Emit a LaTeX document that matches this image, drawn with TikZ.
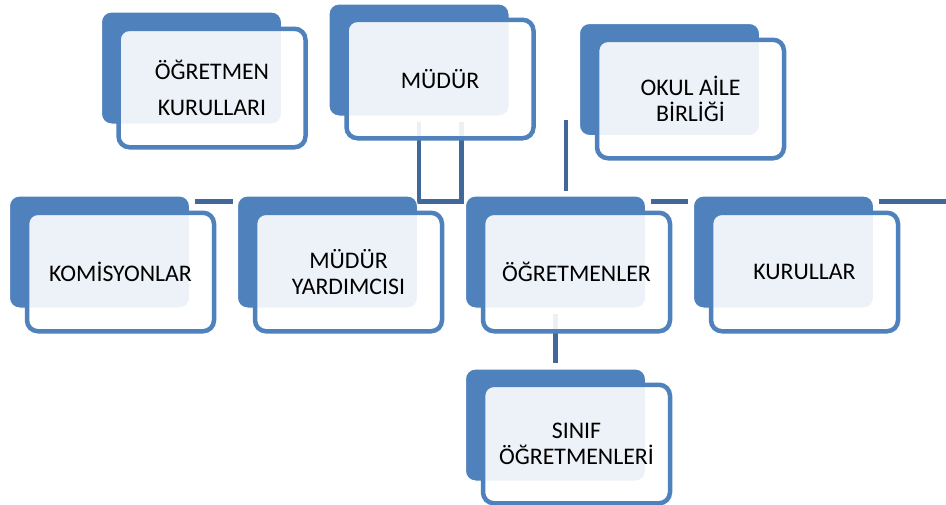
\documentclass[tikz,border=0pt]{standalone}
\usepackage{fontspec}
\setmainfont{Carlito}
\usetikzlibrary{backgrounds}
\definecolor{acc}{RGB}{79,129,189}
\definecolor{lin}{RGB}{65,104,155}
\begin{document}
\begin{tikzpicture}[x=1pt,y=-1pt,
  backbox/.style={fill=acc, draw=white, line width=1pt, rounded corners=10pt,
    minimum width=180pt, minimum height=112pt, inner sep=0pt},
  frontbox/.style={fill=white, fill opacity=0.9, text opacity=1, draw=acc, draw opacity=1,
    line width=4.5pt, rounded corners=11pt, minimum width=187pt, minimum height=118.5pt,
    inner sep=0pt, align=center, text=black,
    font=\fontsize{23.8pt}{26.5pt}\selectfont},
  conn/.style={draw=lin, line width=4.8pt}]
\useasboundingbox (0,0) rectangle (946,504);
% back boxes
\node[backbox] (b1) at (191.5,68) {};
\node[backbox] (b2) at (419,60) {};
\node[backbox] (b3) at (669.5,79.5) {};
\node[backbox] (b4) at (99.5,252) {};
\node[backbox] (b5) at (327.5,252) {};
\node[backbox] (b6) at (555.5,252) {};
\node[backbox] (b7) at (783.5,252) {};
\node[backbox] (b8) at (555.5,425) {};
% front boxes
\node[frontbox] (f1) at (212,88) {ÖĞRETMEN\\[9.5pt]KURULLARI};
\node[frontbox] (f2) at (440,79) {MÜDÜR};
\node[frontbox] (f3) at (690.5,99) {OKUL AİLE\\BİRLİĞİ};
\node[frontbox] (f4) at (120.5,272) {KOMİSYONLAR};
\node[frontbox] (f5) at (348.5,272) {MÜDÜR\\YARDIMCISI};
\node[frontbox] (f6) at (576.5,272) {ÖĞRETMENLER};
\node[frontbox] (f7) at (804.5,272) {KURULLAR};
\node[frontbox] (f8) at (576.5,444) {SINIF\\ÖĞRETMENLERİ};
% connectors
\begin{scope}[on background layer]
  \fill[white] (0,0) rectangle (946,504);
  \coordinate (u1) at (419,122);
  \coordinate (u2) at (419,201.5);
  \coordinate (u3) at (461.5,201.5);
  \coordinate (u4) at (461.5,122);
  \draw[conn] (u1) -- (u2) -- (u3) -- (u4);
  \coordinate (a1) at (195,201.5);
  \coordinate (a2) at (232.5,201.5);
  \draw[conn] (a1) -- (a2);
  \coordinate (c1) at (651,201.5);
  \coordinate (c2) at (688,201.5);
  \draw[conn] (c1) -- (c2);
  \coordinate (d1) at (879,201.5);
  \coordinate (d2) at (946,201.5);
  \draw[conn] (d1) -- (d2);
  \coordinate (v1) at (566,119.5);
  \coordinate (v2) at (566,190.5);
  \draw[conn] (v1) -- (v2);
  \coordinate (w1) at (555.3,314);
  \coordinate (w2) at (555.3,363.3);
  \draw[conn] (w1) -- (w2);
\end{scope}
\end{tikzpicture}
\end{document}
